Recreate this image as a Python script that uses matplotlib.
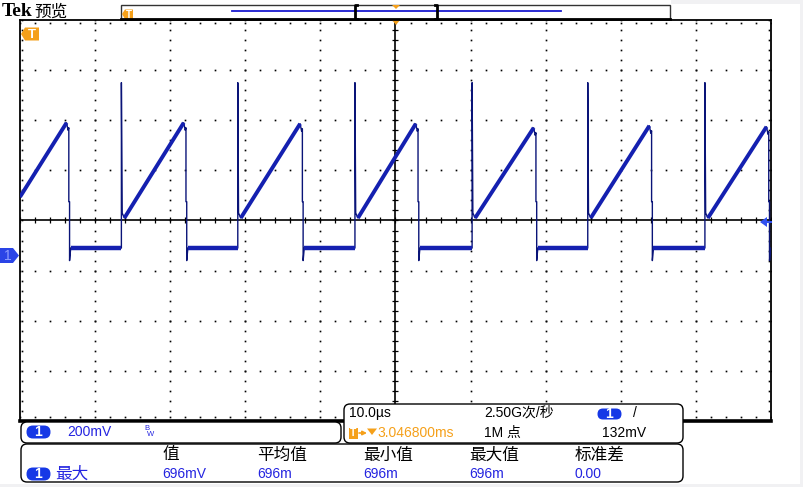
import numpy as np
import matplotlib.pyplot as plt
from matplotlib.patches import FancyBboxPatch, Polygon, Rectangle

plt.rcParams['font.family'] = ['Liberation Sans', 'Noto Sans CJK SC', 'DejaVu Sans']

# waveform: time in us from trigger, level in mV
rise_us = [-36.5, -21.0, -5.4, 10.2, 25.6, 41.2]
fall_us = [-43.5, -27.9, -12.4, 3.0, 18.7, 34.1, 49.7]
peak_mv = [530, 530, 526, 526, 510, 518, 514]   # ramp top before each fall
start_mv = 234       # ramp value at left screen edge
low_mv = 30
spike_mv = 690
ramp_start_mv = 150

# measurement panel
meas_headers = ['值', '平均值', '最小值', '最大值', '标准差']
meas_values = ['696mV', '696m', '696m', '696m', '0.00']

BLUE_TXT = '#2424e0'
PILL = '#1638e6'
ORANGE = '#f5a01a'
TRACE = '#1420b0'
TRACE_DK = '#0a1478'

# ---- build trace ----
t, v = [-50.0], [start_mv]
thick = []
seg = (-50.0, start_mv)
for i, f in enumerate(fall_us):
    thick.append(([seg[0], f - 0.3], [seg[1], peak_mv[i]]))
    t += [f - 0.3, f - 0.1, f, f, f + 0.1, f + 0.1, f + 0.25]
    v += [peak_mv[i], peak_mv[i] - 30, peak_mv[i] - 20, 215, 215, -20, low_mv]
    if i < len(rise_us):
        r = rise_us[i]
        thick.append(([f + 0.25, r], [low_mv, low_mv]))
        t += [r, r, r + 0.1, r + 0.4]
        v += [low_mv, spike_mv, 170, ramp_start_mv]
        seg = (r + 0.4, ramp_start_mv)
    else:
        thick.append(([f + 0.25, 50], [low_mv, low_mv]))
        t += [50]
        v += [low_mv]

W, H = 804, 487
fig = plt.figure(figsize=(W / 100, H / 100), dpi=100)
fig.patch.set_facecolor('white')

# graticule area in pixels: x 20..771, y 20..421
ax = fig.add_axes([20 / W, 1 - 421 / H, 751 / W, 401 / H])
ax.set_xlim(-50, 50)
ax.set_ylim(-0.66, 0.94)
ax.set_xticks([])
ax.set_yticks([])
for s in ax.spines.values():
    s.set_linewidth(1.3)
ax.spines['bottom'].set_linewidth(2.6)

yc = 0.14
xs_minor = np.arange(-50, 50.01, 2)
ys_minor = yc + np.arange(-20, 21) * 0.04
for xg in [-40, -30, -20, -10, 10, 20, 30, 40]:
    ax.plot([xg] * len(ys_minor), ys_minor, 's', ms=1.2, mew=0, color='k')
for k in [-3, -2, -1, 1, 2, 3]:
    ax.plot(xs_minor, [yc + 0.2 * k] * len(xs_minor), 's', ms=1.2, mew=0, color='k')
ax.axhline(yc, color='k', lw=1.2)
ax.axvline(0, color='k', lw=1.2)
ax.plot(xs_minor, [yc] * len(xs_minor), '|', ms=5, mew=0.9, color='k')
ax.plot([0] * len(ys_minor), ys_minor, '_', ms=5, mew=0.9, color='k')
ax.plot(xs_minor, [0.94 - 0.012] * len(xs_minor), 's', ms=1.2, mew=0, color='k')
ax.plot(xs_minor, [-0.66 + 0.016] * len(xs_minor), 's', ms=1.2, mew=0, color='k')
ax.plot([-50 + 0.3] * len(ys_minor), ys_minor, 's', ms=1.2, mew=0, color='k')
ax.plot([50 - 0.3] * len(ys_minor), ys_minor, 's', ms=1.2, mew=0, color='k')

tv = np.array(v) / 1000
ax.plot(t, tv, color=TRACE_DK, lw=1.0, zorder=4)
for xs, ys in thick:
    lw = 2.8 if ys[0] != ys[1] else 3.2
    ax.plot(xs, np.array(ys) / 1000, color=TRACE, lw=lw, zorder=5,
            solid_capstyle='butt')

# ---- overlay in pixel coordinates ----
ov = fig.add_axes([0, 0, 1, 1], zorder=5)
ov.set_xlim(0, W)
ov.set_ylim(H, 0)
ov.axis('off')
ov.patch.set_alpha(0)

GRAY = '#f1f1f3'
ov.add_patch(Rectangle((800, 0), 4, H, color=GRAY, lw=0))
ov.add_patch(Rectangle((0, 484), W, 3, color=GRAY, lw=0))
ov.add_patch(Rectangle((671, 0), 133, 4, color=GRAY, lw=0))

# header
ov.text(2, 12, 'Tek', fontsize=14, fontweight='bold', family='Liberation Serif',
        va='center', ha='left')
ov.text(34, 12, '预览', fontsize=12, family='Noto Sans CJK SC', va='center', ha='left')

# record view
ov.add_patch(Rectangle((121, 4.5), 549, 14.5, fill=False, ec='#333333', lw=1))
ov.plot([121, 670], [19, 19], color='k', lw=2)
ov.plot([232, 561], [11.3, 11.3], color='#1a1ad0', lw=1.3)
for bx, d in [(355, 1), (437, -1)]:
    ov.plot([bx + 2 * d, bx, bx, bx + 2 * d], [5, 5, 19, 19], color='k', lw=2)
ov.add_patch(Polygon([[392, 5], [400, 5], [396, 9]], color=ORANGE, lw=0))
ov.add_patch(Polygon([[122, 14], [125, 9.5], [133, 9.5], [133, 19], [125, 19]],
                     color=ORANGE, lw=0))
ov.text(129, 14.5, 'T', color='white', fontsize=7, fontweight='bold',
        ha='center', va='center')

# trigger position / level markers
ov.add_patch(Polygon([[392, 20], [400, 20], [396, 25]], color=ORANGE, lw=0))
ov.add_patch(Polygon([[21, 34], [25, 27.5], [39, 27.5], [39, 40.5], [25, 40.5]],
                     color=ORANGE, lw=0))
ov.text(32, 34.5, 'T', color='white', fontsize=9.5, fontweight='bold',
        ha='center', va='center')
ov.add_patch(Polygon([[0, 248], [13, 248], [19, 255.5], [13, 263], [0, 263]],
                     color='#2a44e6', lw=0))
ov.text(8, 256, '1', color='#8c9cff', fontsize=10, ha='center', va='center')
ov.add_patch(Polygon([[760, 222], [767, 217], [767, 227]], color='#3050f0', lw=0))
ov.plot([766, 771], [222, 222], color='#3050f0', lw=1.5)


def rbox(x0, y0, x1, y1):
    ov.add_patch(FancyBboxPatch((x0, y0), x1 - x0, y1 - y0,
                                boxstyle='round,pad=0,rounding_size=6',
                                fc='white', ec='k', lw=1))


def pill(cx, cy, w=24, h=13):
    ov.add_patch(FancyBboxPatch((cx - w / 2, cy - h / 2), w, h,
                                boxstyle='round,pad=0,rounding_size=%g' % (h / 2),
                                fc=PILL, ec='none'))
    ov.text(cx, cy + 0.5, '1', color='white', fontsize=10, fontweight='bold',
            ha='center', va='center')


# channel box
rbox(21, 422, 341, 443)
pill(38.5, 432)
ov.text(67, 432, '200mV', color=BLUE_TXT, fontsize=10, va='center')
ov.text(144, 428, 'B', color=BLUE_TXT, fontsize=5.5, va='center')
ov.text(147, 435, 'W', color=BLUE_TXT, fontsize=5.5, va='center')

# timebase box
rbox(344, 404, 683, 443)
ov.text(349, 413, '10.0µs', fontsize=10, va='center')
ov.add_patch(Rectangle((349, 428), 9, 11, color=ORANGE, lw=0))
ov.text(353.5, 433.5, 'T', color='white', fontsize=7.5, fontweight='bold',
        ha='center', va='center')
ov.annotate('', xy=(367, 433), xytext=(359, 433),
            arrowprops=dict(arrowstyle='-|>', color=ORANGE, lw=1.2,
                            mutation_scale=6, shrinkA=0, shrinkB=0))
ov.add_patch(Polygon([[367, 428.5], [377, 428.5], [372, 435]], color=ORANGE, lw=0))
ov.text(377, 433, '3.046800ms', color=ORANGE, fontsize=10, va='center')
ov.text(484, 413, '2.50G次/秒', fontsize=10, va='center')
ov.text(484, 433, '1M 点', fontsize=10, va='center')
pill(609.5, 414, w=24, h=11)
ov.text(633, 413, '/', fontsize=10, va='center')
ov.text(602, 433, '132mV', fontsize=10, va='center')

# measurement box
rbox(21, 444, 683, 482)
header_x = [162, 257, 363, 469, 575]
for x, h_txt, val in zip(header_x, meas_headers, meas_values):
    ov.text(x, 455, h_txt, fontsize=12, family='Noto Sans CJK SC', va='center')
    ov.text(x, 474, val, color=BLUE_TXT, fontsize=10, va='center')
pill(38.5, 474)
ov.text(55, 474, '最大', color=BLUE_TXT, fontsize=12, family='Noto Sans CJK SC',
        va='center')

fig.savefig('out.png', dpi=100)
